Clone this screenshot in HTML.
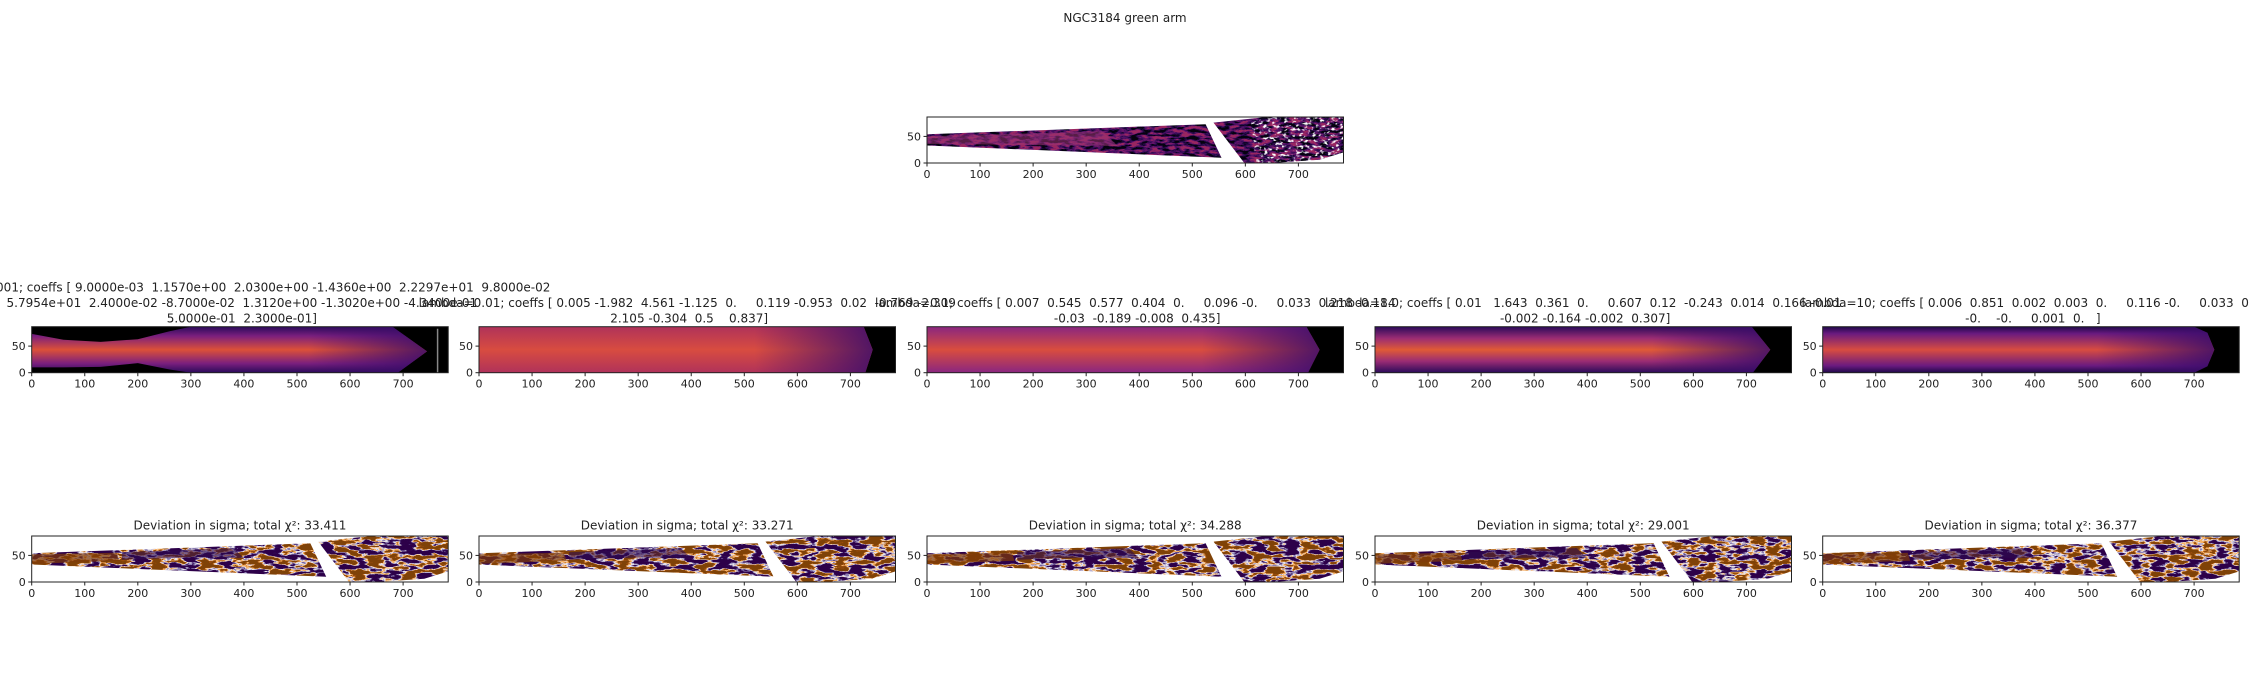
<!DOCTYPE html>
<html><head><meta charset="utf-8">
<style>
html,body{margin:0;padding:0;background:#fff;}
svg{display:block;font-family:"DejaVu Sans","Liberation Sans",sans-serif;}
text{white-space:pre;}
</style></head>
<body>
<svg id="fig" width="2250" height="675" viewBox="0 0 2250 675" xmlns="http://www.w3.org/2000/svg">
<defs>
  <linearGradient id="gV1" x1="0" y1="0" x2="0" y2="1">
    <stop offset="0" stop-color="#2a0a5a"/><stop offset="0.2" stop-color="#7a1f7e"/>
    <stop offset="0.5" stop-color="#dc5038"/><stop offset="0.8" stop-color="#7a1f7e"/><stop offset="1" stop-color="#2a0a5a"/>
  </linearGradient>
  <linearGradient id="gV2" x1="0" y1="0" x2="0" y2="1">
    <stop offset="0" stop-color="#b0325a"/><stop offset="0.5" stop-color="#d84c40"/><stop offset="1" stop-color="#b0325a"/>
  </linearGradient>
  <linearGradient id="gV3" x1="0" y1="0" x2="0" y2="1">
    <stop offset="0" stop-color="#8a2680"/><stop offset="0.5" stop-color="#d94d3e"/><stop offset="1" stop-color="#8a2680"/>
  </linearGradient>
  <linearGradient id="gV4" x1="0" y1="0" x2="0" y2="1">
    <stop offset="0" stop-color="#2a0a5a"/><stop offset="0.25" stop-color="#9a2c74"/>
    <stop offset="0.5" stop-color="#e05a35"/><stop offset="0.75" stop-color="#9a2c74"/><stop offset="1" stop-color="#2a0a5a"/>
  </linearGradient>
  <linearGradient id="gV5" x1="0" y1="0" x2="0" y2="1">
    <stop offset="0" stop-color="#1e0848"/><stop offset="0.15" stop-color="#6a1a80"/>
    <stop offset="0.5" stop-color="#d84c40"/><stop offset="0.85" stop-color="#6a1a80"/><stop offset="1" stop-color="#1e0848"/>
  </linearGradient>
  <linearGradient id="gH" x1="0" y1="0" x2="1" y2="0">
    <stop offset="0" stop-color="#3a0c6a" stop-opacity="0"/><stop offset="0.7" stop-color="#3a0c6a" stop-opacity="0"/>
    <stop offset="1" stop-color="#3a0c6a" stop-opacity="0.85"/>
  </linearGradient>
  <filter id="devNoise1" x="0" y="0" width="1" height="1" filterUnits="objectBoundingBox" color-interpolation-filters="sRGB">
    <feTurbulence type="fractalNoise" baseFrequency="0.06 0.2" numOctaves="3" seed="3"/>
    <feColorMatrix type="matrix" values="3.4 0 0 0 -1.2  3.4 0 0 0 -1.2  3.4 0 0 0 -1.2  0 0 0 0 1"/>
    <feComponentTransfer>
      <feFuncR type="discrete" tableValues="0.18 0.2 0.55 0.9 0.97 0.6 0.5"/>
      <feFuncG type="discrete" tableValues="0.0 0.04 0.5 0.88 0.7 0.3 0.26"/>
      <feFuncB type="discrete" tableValues="0.29 0.33 0.7 0.92 0.4 0.05 0.03"/>
    </feComponentTransfer>
  </filter>
  <filter id="topNoise" x="0" y="0" width="1" height="1" filterUnits="objectBoundingBox" color-interpolation-filters="sRGB">
    <feTurbulence type="fractalNoise" baseFrequency="0.1 0.3" numOctaves="3" seed="7"/>
    <feColorMatrix type="matrix" values="3 0 0 0 -1  3 0 0 0 -1  3 0 0 0 -1  0 0 0 0 1"/>
    <feComponentTransfer>
      <feFuncR type="discrete" tableValues="0.02 0.1 0.22 0.33 0.45 0.6"/>
      <feFuncG type="discrete" tableValues="0.01 0.03 0.05 0.07 0.1 0.15"/>
      <feFuncB type="discrete" tableValues="0.06 0.22 0.35 0.4 0.42 0.38"/>
    </feComponentTransfer>
  </filter>
  <filter id="speckle" x="0" y="0" width="1" height="1" filterUnits="objectBoundingBox" color-interpolation-filters="sRGB">
    <feTurbulence type="fractalNoise" baseFrequency="0.25 0.35" numOctaves="2" seed="11"/>
    <feColorMatrix type="matrix" values="0 0 0 0 1  0 0 0 0 1  0 0 0 0 1  5 0 0 0 -2.7"/>
  </filter>
</defs>
<text x="1125" y="22" font-size="12" text-anchor="middle" fill="#222">NGC3184 green arm</text>
</svg>
<script>
const xTicks = [0,100,200,300,400,500,600,700];
const yTicks = [0,50];
const xMax = 785, yMax = 86.5;
const chi2 = [33.411, 33.271, 34.288, 29.001, 36.377];
const titleLines = [
  ["lambda=0.001; coeffs [ 9.0000e-03  1.1570e+00  2.0300e+00 -1.4360e+00  2.2297e+01  9.8000e-02",
   " 5.7954e+01  2.4000e-02 -8.7000e-02  1.3120e+00 -1.3020e+00 -4.3400e-01",
   " 5.0000e-01  2.3000e-01]"],
  ["lambda=0.01; coeffs [ 0.005 -1.982  4.561 -1.125  0.     0.119 -0.953  0.02  -0.769 -2.309",
   " 2.105 -0.304  0.5    0.837]"],
  ["lambda=0.1; coeffs [ 0.007  0.545  0.577  0.404  0.     0.096 -0.     0.033  0.218 -0.184",
   " -0.03  -0.189 -0.008  0.435]"],
  ["lambda=1.0; coeffs [ 0.01   1.643  0.361  0.     0.607  0.12  -0.243  0.014  0.166 -0.01",
   " -0.002 -0.164 -0.002  0.307]"],
  ["lambda=10; coeffs [ 0.006  0.851  0.002  0.003  0.     0.116 -0.     0.033  0.1",
   " -0.    -0.     0.001  0.   ]"]
];
const colLefts = [31.7, 479, 927, 1375, 1822.7];
const W = 416.5, H = 46;
const NS = "http://www.w3.org/2000/svg";
const fig = document.getElementById('fig');

function mk(tag, attrs, parent){
  const e = document.createElementNS(NS, tag);
  for (const k in attrs) e.setAttribute(k, attrs[k]);
  (parent||fig).appendChild(e);
  return e;
}
function axis(left, top){
  return {sx: v => left + v*(W/xMax), sy: v => top + H - v*(H/yMax), left, top};
}
function pathFrom(ax, pts){
  return 'M' + pts.map(p => ax.sx(p[0]).toFixed(1)+','+ax.sy(p[1]).toFixed(1)).join(' L') + ' Z';
}
let clipId = 0;
function clipRect(ax){
  const id = 'clip' + (clipId++);
  const cp = mk('clipPath', {id});
  mk('rect', {x: ax.left, y: ax.top, width: W, height: H}, cp);
  return 'url(#'+id+')';
}
function frameAndTicks(ax, g){
  const fr = mk('rect', {x: ax.left, y: ax.top, width: W, height: H, fill: 'none', stroke: '#222', 'stroke-width': 1}, g);
  
  
  xTicks.forEach(t => {
    const x = ax.sx(t), y = ax.top + H;
    mk('line', {x1: x, x2: x, y1: y, y2: y+3.5, stroke: '#222', 'stroke-width': 1}, g);
    const tx = mk('text', {x: x, y: y+15, 'font-size': 11, 'text-anchor': 'middle', fill: '#222'}, g);
    tx.textContent = t;
    
    
  });
  yTicks.forEach(t => {
    const y = ax.sy(t);
    mk('line', {x1: ax.left-3.5, x2: ax.left, y1: y, y2: y, stroke: '#222', 'stroke-width': 1}, g);
    const ty = mk('text', {x: ax.left-6, y: y+4, 'font-size': 11, 'text-anchor': 'end', fill: '#222'}, g);
    ty.textContent = t;
    
    
  });
}

const wedgeA = [[0,33],[0,54],[525,73],[555,10]];
const wedgeB = [[540,76],[640,86.5],[785,86.5],[785,20],[740,6],[650,0],[598,0]];
const speckleZone = [[610,86.5],[785,86.5],[785,20],[740,6],[680,0],[620,0]];

// ---- top panel ----
(function(){
  const ax = axis(927, 117);
  const g = mk('g', {});
  
  
  const cp = clipRect(ax);
  const gi = mk('g', {'clip-path': cp}, g);
  [wedgeA, wedgeB].forEach((w, i) => {
    const id = 'topw'+i;
    const c = mk('clipPath', {id});
    mk('path', {d: pathFrom(ax, w)}, c);
    const r = mk('rect', {x: ax.left, y: ax.top, width: W, height: H, filter: 'url(#topNoise)', 'clip-path': 'url(#'+id+')'}, gi);
    
    
  });
  const core = mk('path', {d: pathFrom(ax, [[0,36],[0,50],[330,60],[360,32]]), fill: '#9a3572', opacity: 0.55}, gi);
  
  
  const sid = 'speckz';
  const sc = mk('clipPath', {id: sid});
  mk('path', {d: pathFrom(ax, speckleZone)}, sc);
  const sp = mk('rect', {x: ax.left, y: ax.top, width: W, height: H, filter: 'url(#speckle)', 'clip-path': 'url(#'+sid+')'}, gi);
  
  
  frameAndTicks(ax, g);
})();

// ---- row 2 ----
const modelShapes = [
  [[0,73],[60,62],[130,58],[200,63],[260,78],[300,86.5],[680,86.5],[745,40],[690,0],[300,0],[260,6],[200,18],[130,11],[60,10],[0,10]],
  [[0,0],[0,86.5],[725,86.5],[742,43],[728,0]],
  [[0,0],[0,86.5],[715,86.5],[740,43],[718,0]],
  [[0,0],[0,86.5],[710,86.5],[745,43],[712,0]],
  [[0,0],[0,86.5],[700,86.5],[725,75],[738,43],[725,12],[700,0]]
];
const grads = ['url(#gV1)','url(#gV2)','url(#gV3)','url(#gV4)','url(#gV5)'];
colLefts.forEach((left, i) => {
  const ax = axis(left, 326.7);
  const g = mk('g', {});
  
  
  const cp = clipRect(ax);
  const gi = mk('g', {'clip-path': cp}, g);
  mk('rect', {x: ax.left, y: ax.top, width: W, height: H, fill: '#000'}, gi);
  const m = mk('path', {d: pathFrom(ax, modelShapes[i]), fill: grads[i]}, gi);
  
  
  mk('path', {d: pathFrom(ax, modelShapes[i]), fill: 'url(#gH)'}, gi);
  if (i === 0) {
    const vl = mk('line', {x1: ax.sx(765), x2: ax.sx(765), y1: ax.top+2, y2: ax.top+H, stroke: '#888', 'stroke-width': 1.5}, gi);
    
    
  }
  frameAndTicks(ax, g);
  const lines = titleLines[i];
  const cx = left + W/2;
  const baseLast = 322.5;
  lines.forEach((ln, j) => {
    const y = baseLast - (lines.length-1-j)*15.5;
    const t = mk('text', {x: cx, y: y, 'font-size': 12, 'text-anchor': 'middle', fill: '#222'}, fig);
    t.textContent = ln;
    
    
  });
});

// ---- row 3 ----
colLefts.forEach((left, i) => {
  const ax = axis(left, 536);
  const g = mk('g', {});
  
  
  const cp = clipRect(ax);
  const gi = mk('g', {'clip-path': cp}, g);
  mk('rect', {x: ax.left, y: ax.top, width: W, height: H, fill: '#fff'}, gi);
  [wedgeA, wedgeB].forEach((w, k) => {
    const id = 'devw'+i+'_'+k;
    const c = mk('clipPath', {id});
    mk('path', {d: pathFrom(ax, w)}, c);
    const r = mk('rect', {x: ax.left, y: ax.top, width: W, height: H, filter: 'url(#devNoise1)', 'clip-path': 'url(#'+id+')'}, gi);
    
    
  });
  const b1 = mk('path', {d: pathFrom(ax, [[0,34],[0,52],[160,55],[165,40]]), fill: '#7f3b08', opacity: 0.7}, gi);
  
  
  const b2 = mk('path', {d: pathFrom(ax, [[170,42],[170,56],[380,64],[400,45],[300,46]]), fill: '#2d0a4e', opacity: 0.6}, gi);
  
  
  frameAndTicks(ax, g);
  const t = mk('text', {x: left + W/2, y: 529.5, 'font-size': 12, 'text-anchor': 'middle', fill: '#222'}, fig);
  t.textContent = 'Deviation in sigma; total \u03C7\u00B2: ' + chi2[i].toFixed(3);
  
  
});
</script>
</body></html>
